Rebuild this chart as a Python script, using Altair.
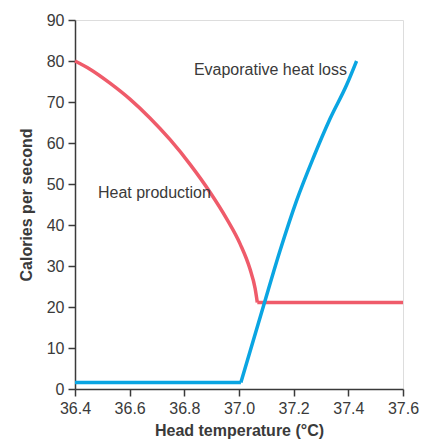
import altair as alt
import pandas as pd

# Heat production curve (red): curved part, then flat plateau
prod_t = [36.4, 36.455, 36.528, 36.601, 36.674, 36.748, 36.821, 36.894, 36.955, 37.004, 37.04, 37.059, 37.067]
prod_v = [80.0, 78.0, 74.6, 70.7, 66.1, 60.8, 54.8, 48.0, 41.5, 35.4, 29.3, 24.5, 21.1]
plateau_t = [37.067, 37.6]
plateau_v = [21.1, 21.1]

# Evaporative heat loss curve (blue): flat base, then rising part
base_t = [36.4, 37.007]
base_v = [1.6, 1.6]
rise_t = [37.007, 37.089, 37.15, 37.211, 37.272, 37.333, 37.394, 37.43]
rise_v = [1.6, 20.1, 33.7, 46.0, 56.4, 65.9, 74.2, 80.0]

label_text = ["Evaporative heat loss", "Heat production"]
label_t = [36.835, 36.484]
label_v = [77.9, 47.9]

x_ticks = [36.4, 36.6, 36.8, 37.0, 37.2, 37.4, 37.6]
y_ticks = [0, 10, 20, 30, 40, 50, 60, 70, 80, 90]

FONT = "Liberation Sans"
TXT = "#3a3a3a"
RED = "#EF5B6A"
BLUE = "#0AA5E2"


def frame(t, v):
    return pd.DataFrame({"t": t, "v": v, "o": range(len(t))})


xscale = alt.Scale(domain=[36.4, 37.6], nice=False, zero=False)
yscale = alt.Scale(domain=[0, 90], nice=False)

xax = alt.Axis(values=x_ticks, format=".1f", title="Head temperature (°C)", grid=False,
               labelFontSize=16, titleFontSize=16, titleFontWeight="bold",
               labelColor=TXT, titleColor=TXT, domainColor=TXT,
               tickColor=TXT, tickSize=7, domainWidth=1.5, tickWidth=1.5,
               labelPadding=4, titlePadding=6, labelFont=FONT, titleFont=FONT,
               labelOverlap=False, labelFlush=False)
yax = alt.Axis(values=y_ticks, title="Calories per second", grid=False,
               labelFontSize=16, titleFontSize=16, titleFontWeight="bold",
               labelColor=TXT, titleColor=TXT, domainColor=TXT,
               tickColor=TXT, tickSize=7, domainWidth=1.5, tickWidth=1.5,
               labelPadding=4, titlePadding=12, labelFont=FONT, titleFont=FONT,
               labelOverlap=False, labelFlush=False)


def line(t, v, color, interp="linear", axes=False):
    x = alt.X("t:Q", scale=xscale, axis=xax) if axes else alt.X("t:Q", scale=xscale)
    y = alt.Y("v:Q", scale=yscale, axis=yax) if axes else alt.Y("v:Q", scale=yscale)
    return alt.Chart(frame(t, v)).mark_line(color=color, strokeWidth=3.5, clip=False,
                                            interpolate=interp).encode(x=x, y=y, order="o:Q")


prod = line(prod_t, prod_v, RED, "monotone", axes=True)
plat = line(plateau_t, plateau_v, RED)
base = line(base_t, base_v, BLUE)
rise = line(rise_t, rise_v, BLUE, "monotone")

labels = alt.Chart(pd.DataFrame({"label": label_text, "t": label_t, "v": label_v})).mark_text(
    align="left", baseline="middle", fontSize=16, font=FONT, color=TXT).encode(
    x=alt.X("t:Q", scale=xscale),
    y=alt.Y("v:Q", scale=yscale),
    text="label:N",
)

chart = alt.layer(prod, plat, base, rise, labels).properties(
    width=328, height=369,
    autosize=alt.AutoSizeParams(type="none"),
    padding={"left": 67, "top": 12, "right": 20, "bottom": 60},
).configure_view(stroke=None).configure(background="white")

chart.save("out.html", embed_options={"renderer": "svg", "actions": False})
